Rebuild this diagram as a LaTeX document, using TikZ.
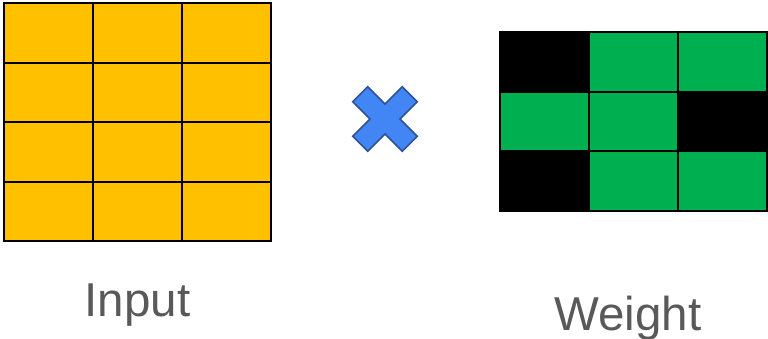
\documentclass[tikz,border=0pt]{standalone}
\usepackage{fontspec}
\setmainfont{Liberation Sans}
\usepackage{xcolor}
\usetikzlibrary{positioning}
\definecolor{inputfill}{RGB}{255,192,0}
\definecolor{weightfill}{RGB}{0,176,80}
\definecolor{crossfill}{RGB}{66,133,244}
\definecolor{crossline}{RGB}{47,82,150}
\definecolor{labelgray}{RGB}{89,89,89}

\begin{document}
\begin{tikzpicture}[x=1pt, y=-1pt,
    incell/.style={draw=black, line width=2pt, fill=inputfill, rectangle,
        minimum width=89pt, minimum height=59.5pt, inner sep=0pt, anchor=north west},
    wcell/.style={draw=black, line width=2pt, fill=#1, rectangle,
        minimum width=89pt, minimum height=59.7pt, inner sep=0pt, anchor=north west},
    caption/.style={font=\fontsize{47.5}{56}\selectfont, text=labelgray, anchor=base}]
    \useasboundingbox (0,0) rectangle (768,338);

    % input matrix, 4 x 3
    \foreach \r in {0,...,3} {
        \foreach \c in {0,...,2} {
            \node[incell] (in-\r-\c) at (3+89*\c, 2+59.5*\r) {};
        }
    }

    % weight matrix, 3 x 3
    \foreach \r/\c/\col in {0/0/black, 0/1/weightfill, 0/2/weightfill,
                            1/0/weightfill, 1/1/weightfill, 1/2/black,
                            2/0/black, 2/1/weightfill, 2/2/weightfill} {
        \node[wcell=\col] (w-\r-\c) at (499+89*\c, 31+59.7*\r) {};
    }

    % multiply sign
    \coordinate (times) at (385,119);
    \begin{scope}[shift={(times)}, rotate=45]
        \filldraw[fill=crossfill, draw=crossline, line width=1.5pt, line join=miter]
            (10.6,10.6) -- (10.6,35) -- (-10.6,35) -- (-10.6,10.6) -- (-35,10.6)
            -- (-35,-10.6) -- (-10.6,-10.6) -- (-10.6,-35) -- (10.6,-35)
            -- (10.6,-10.6) -- (35,-10.6) -- (35,10.6) -- cycle;
    \end{scope}

    \node[caption] (inlabel) at (137.5,316) {Input};
    \node[caption] (wlabel) at (628,330) {Weight};
\end{tikzpicture}
\end{document}
